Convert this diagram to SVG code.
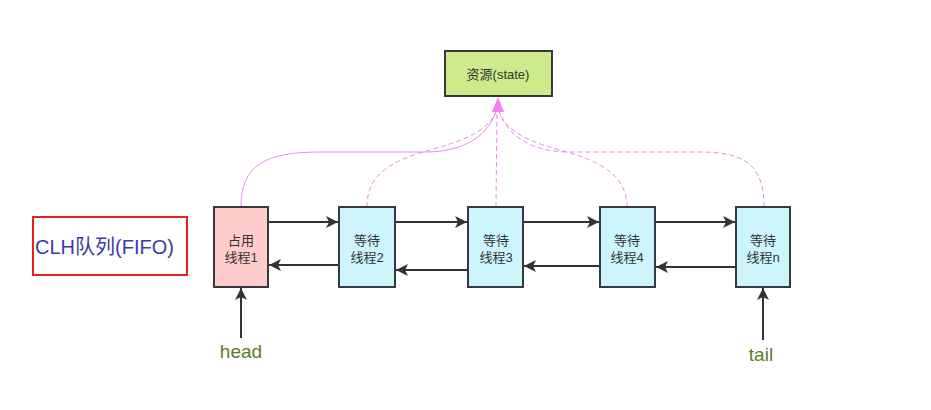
<svg xmlns="http://www.w3.org/2000/svg" width="931" height="410" viewBox="0 0 931 410">
<defs>
<marker id="ah" viewBox="0 0 10 10" refX="10" refY="5" markerWidth="6" markerHeight="6" markerUnits="strokeWidth" orient="auto">
<path d="M0,0 L10,5 L0,10 L2.5,5 Z" fill="#333"/>
</marker>
<style>
.node{stroke:#36393d;stroke-width:2}
.wait{fill:#ccf5fc}
.t{font-family:"Liberation Sans","Noto Sans CJK SC",sans-serif;font-size:13px;fill:#333;text-anchor:middle}
.ln{stroke:#333;stroke-width:2;fill:none;marker-end:url(#ah)}
.pl{stroke:#e58fe5;stroke-width:1;fill:none}
.dash{stroke-dasharray:5,3}
.lbl{font-family:"Liberation Sans","Noto Sans CJK SC",sans-serif;font-size:19px;fill:#5a7d2a;text-anchor:middle}
</style>
</defs>
<rect width="931" height="410" fill="#fff"/>
<g id="connectors">
<path class="pl" d="M241,207 C241,165 265,152 320,152 L425,152 C465,152 490,135 497,108"/>
<path class="pl dash" d="M367,207 C367,178 385,162 430,150 C470,139 492,128 497,108"/>
<path class="pl dash" d="M496,207 L497,108"/>
<path class="pl dash" d="M627,207 C627,178 605,162 560,150 C522,140 503,128 498,108"/>
<path class="pl dash" d="M764,207 C764,165 745,152 700,152 L570,152 C530,152 506,135 498,108"/>
<polygon points="498,97 504,112 492,112" fill="#f47ff4"/>
<line class="ln" x1="268" y1="222" x2="338" y2="222"/>
<line class="ln" x1="395" y1="222" x2="467" y2="222"/>
<line class="ln" x1="523" y1="222" x2="599" y2="222"/>
<line class="ln" x1="655" y1="222" x2="735" y2="222"/>
<line class="ln" x1="339" y1="265" x2="269" y2="265"/>
<line class="ln" x1="468" y1="270" x2="396" y2="270"/>
<line class="ln" x1="600" y1="266" x2="524" y2="266"/>
<line class="ln" x1="736" y1="267" x2="656" y2="267"/>
<line class="ln" x1="241" y1="338" x2="241" y2="288"/>
<line class="ln" x1="763" y1="340" x2="763" y2="288"/>
</g>
<g id="resource">
<rect class="node" x="445" y="51" width="107" height="45" fill="#cdeb8b"/>
<text class="t" x="498" y="79">资源(state)</text>
</g>
<g id="thread1">
<rect class="node" x="214" y="207" width="54" height="80" fill="#ffcccc"/>
<text class="t" x="241" y="245">占用</text>
<text class="t" x="241" y="262">线程1</text>
</g>
<g id="thread2">
<rect class="node wait" x="339" y="207" width="56" height="80"/>
<text class="t" x="367" y="245">等待</text>
<text class="t" x="367" y="262">线程2</text>
</g>
<g id="thread3">
<rect class="node wait" x="468" y="207" width="55" height="80"/>
<text class="t" x="496" y="245">等待</text>
<text class="t" x="496" y="262">线程3</text>
</g>
<g id="thread4">
<rect class="node wait" x="600" y="207" width="55" height="80"/>
<text class="t" x="627" y="245">等待</text>
<text class="t" x="627" y="262">线程4</text>
</g>
<g id="threadn">
<rect class="node wait" x="736" y="207" width="54" height="80"/>
<text class="t" x="763" y="245">等待</text>
<text class="t" x="763" y="262">线程n</text>
</g>
<g id="clh">
<rect x="33" y="217" width="154" height="58" fill="#fff" stroke="#e82020" stroke-width="2"/>
<text x="35" y="254" font-family="Liberation Sans,'Noto Sans CJK SC',sans-serif" font-size="20" fill="#3a3aa6">CLH队列(FIFO)</text>
</g>
<g id="head"><text class="lbl" x="241" y="358">head</text></g>
<g id="tail"><text class="lbl" x="761" y="361">tail</text></g>
</svg>
